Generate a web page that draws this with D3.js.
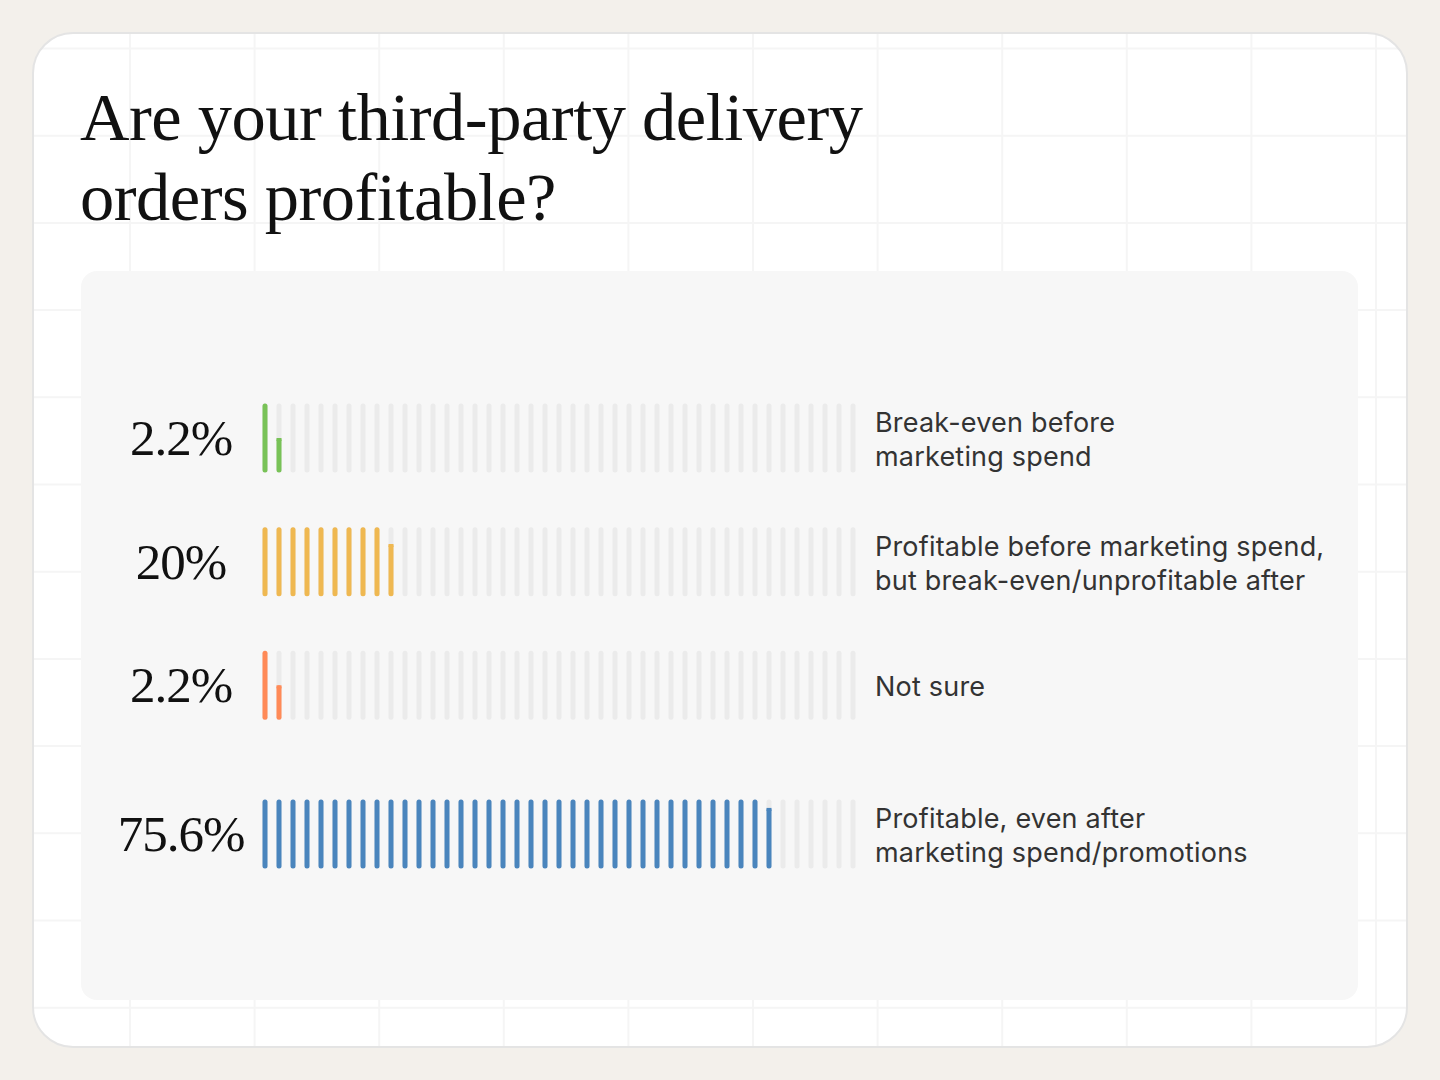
<!DOCTYPE html>
<html>
<head>
<meta charset="utf-8">
<script src="https://cdn.jsdelivr.net/npm/d3@7/dist/d3.min.js"></script>
<style>
  html, body { margin: 0; padding: 0; background: #f3f0eb; }
  svg { display: block; }
</style>
</head>
<body>
<svg id="chart" width="1440" height="1080"></svg>
<script>
// ---- data ----
const titleLines = ["Are your third-party delivery", "orders profitable?"];
const categories = [
  ["Break-even before", "marketing spend"],
  ["Profitable before marketing spend,", "but break-even/unprofitable after"],
  ["Not sure"],
  ["Profitable, even after", "marketing spend/promotions"]
];
const values = [2.2, 20, 2.2, 75.6];
const valueLabels = ["2.2%", "20%", "2.2%", "75.6%"];
const colors = ["#78c257", "#efb851", "#ff8a57", "#4a85bd"];
const tickCount = 43;           // number of tick marks per row
const percentPerTick = 2.05;    // percentage points represented by one tick

// ---- layout ----
const W = 1440, H = 1080;
const svg = d3.select("#chart");

// card
svg.append("rect").attr("x", 0).attr("y", 0).attr("width", W).attr("height", H).attr("fill", "#f3f0eb");
const card = { x: 33, y: 33, w: 1374, h: 1014, r: 40 };
svg.append("clipPath").attr("id", "cardClip")
  .append("rect").attr("x", card.x).attr("y", card.y).attr("width", card.w).attr("height", card.h).attr("rx", card.r);
svg.append("rect").attr("x", card.x).attr("y", card.y).attr("width", card.w).attr("height", card.h)
  .attr("rx", card.r).attr("fill", "#ffffff");

// faint background grid inside the card
const gridG = svg.append("g").attr("clip-path", "url(#cardClip)");
const gx = d3.range(0, 11).map(i => 130 + i * 124.6);
const gy = d3.range(0, 12).map(i => 48.5 + i * 87.2);
gridG.selectAll("line.v").data(gx).join("line").attr("class", "v")
  .attr("x1", d => d).attr("x2", d => d).attr("y1", card.y).attr("y2", card.y + card.h)
  .attr("stroke", "#f5f5f5").attr("stroke-width", 2);
gridG.selectAll("line.h").data(gy).join("line").attr("class", "h")
  .attr("x1", card.x).attr("x2", card.x + card.w).attr("y1", d => d).attr("y2", d => d)
  .attr("stroke", "#f5f5f5").attr("stroke-width", 2);

svg.append("rect").attr("x", card.x).attr("y", card.y).attr("width", card.w).attr("height", card.h)
  .attr("rx", card.r).attr("fill", "none").attr("stroke", "#e4e4e4").attr("stroke-width", 2);

// title
svg.append("text")
  .attr("font-family", "'Liberation Serif', serif")
  .attr("font-size", 68.5)
  .attr("letter-spacing", -0.5)
  .attr("fill", "#111111")
  .selectAll("tspan").data(titleLines).join("tspan")
  .attr("x", 80).attr("y", (d, i) => 140 + i * 80)
  .text(d => d);

// panel
svg.append("rect").attr("x", 81).attr("y", 271).attr("width", 1277).attr("height", 729)
  .attr("rx", 16).attr("fill", "#f7f7f7");

// scales
const tickX = d3.scaleLinear().domain([0, tickCount - 1]).range([265, 265 + (tickCount - 1) * 14]);
const toTicks = d3.scaleLinear().domain([0, tickCount * percentPerTick]).range([0, tickCount]);
const rowY = d3.scalePoint().domain(d3.range(values.length)).range([438, 809]);
const lastGap = 25; // the last (profitable) row is set a little apart
const rowCenter = i => rowY(i) + (i === values.length - 1 ? lastGap : 0);
const tickH = 69, tickW = 5;

const rows = svg.selectAll("g.row").data(values).join("g").attr("class", "row")
  .attr("transform", (d, i) => `translate(0,${rowCenter(i)})`);

rows.each(function (v, i) {
  const g = d3.select(this);
  const units = toTicks(v);
  const full = Math.floor(units);
  const frac = units - full;
  const ticks = d3.range(tickCount).map(k => {
    let f = k < full ? 1 : (k === full && frac > 0 ? Math.max(frac, 0.5) : 0);
    return { k, f };
  });
  // background ticks
  g.selectAll("rect.bg").data(ticks).join("rect").attr("class", "bg")
    .attr("x", d => tickX(d.k) - tickW / 2).attr("y", -tickH / 2)
    .attr("width", tickW).attr("height", tickH).attr("rx", tickW / 2)
    .attr("fill", "#ebebeb");
  // filled ticks
  const filled = ticks.filter(d => d.f > 0);
  g.selectAll("rect.fg").data(filled).join("rect").attr("class", "fg")
    .attr("x", d => tickX(d.k) - tickW / 2).attr("y", d => tickH / 2 - tickH * d.f)
    .attr("width", tickW).attr("height", d => tickH * d.f).attr("rx", tickW / 2)
    .attr("fill", colors[i]);
  // square top for partial ticks
  g.selectAll("rect.fgTop").data(filled.filter(d => d.f < 1)).join("rect").attr("class", "fgTop")
    .attr("x", d => tickX(d.k) - tickW / 2).attr("y", d => tickH / 2 - tickH * d.f)
    .attr("width", tickW).attr("height", 3)
    .attr("fill", colors[i]);

  // value label
  g.append("text")
    .attr("x", 181).attr("y", 17)
    .attr("text-anchor", "middle")
    .attr("font-family", "'Liberation Serif', serif")
    .attr("font-size", 51)
    .attr("letter-spacing", -1)
    .attr("fill", "#111111")
    .text(valueLabels[i]);

  // category label
  const lines = categories[i];
  const lh = 34;
  g.append("text")
    .attr("font-family", "Inter, sans-serif")
    .attr("font-size", 27)
    .attr("letter-spacing", 0.2)
    .attr("fill", "#333333")
    .selectAll("tspan").data(lines).join("tspan")
    .attr("x", 875)
    .attr("y", (d, j) => 11 + (j - (lines.length - 1) / 2) * lh)
    .text(d => d);
});
</script>
</body>
</html>
